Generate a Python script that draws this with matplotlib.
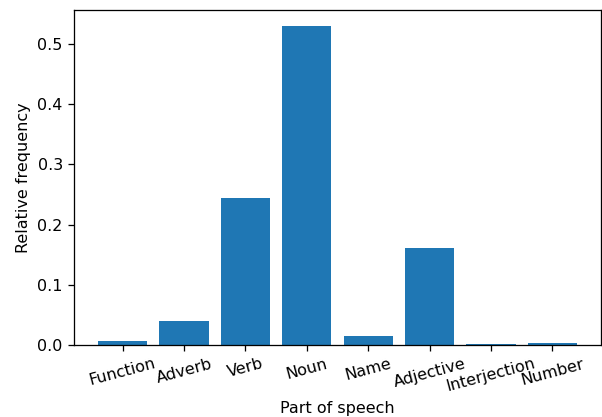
import matplotlib as mpl
import matplotlib.pyplot as plt

mpl.use('Agg')

parts = ["Function", "Adverb", "Verb", "Noun", "Name", "Adjective", "Interjection", "Number"]
freqs = [0.0066, 0.0397, 0.245, 0.530, 0.0149, 0.1606, 0.001, 0.003]

dpi = 115
fig = plt.figure(figsize=(602 / dpi, 417 / dpi), dpi=dpi)
axis = fig.add_axes([74 / 602, 72 / 417, 527 / 602, 335 / 417])
axis.bar(parts, freqs)
axis.set_xlabel("Part of speech")
axis.set_ylabel("Relative frequency")
plt.xticks(rotation=15)
fig.savefig("out.png", dpi=dpi)
